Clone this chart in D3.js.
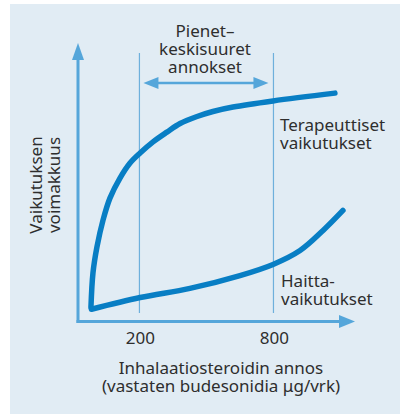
<!DOCTYPE html>
<html>
<head>
<meta charset="utf-8">
<script src="https://cdn.jsdelivr.net/npm/d3@7"></script>
<style>
  body { margin: 0; background: #fff; }
  svg text { font-family: "Noto Sans", "Open Sans", sans-serif; fill: #2e2e2e; }
</style>
</head>
<body>
<div class="graph"></div>
<script>
// schematic dose-response values
var doseTicks = [200, 800];
var therapeuticDose   = [-17, -8, 10, 37, 68, 113, 158, 203, 261, 323, 382, 458, 529, 619, 798, 1075];
var therapeuticEffect = [5.2, 17.4, 26.8, 36.4, 44.3, 51.5, 56.9, 60.5, 64.5, 68.0, 71.1, 73.6, 75.4, 77.0, 79.2, 82.0];
var adverseDose   = [-15, 203, 426, 650, 798, 919, 1022, 1111];
var adverseEffect = [4.4, 8.6, 11.9, 16.5, 20.5, 25.5, 32.7, 39.9];
var rangeLabel = ['Pienet–', 'keskisuuret', 'annokset'];
var therapeuticLabel = ['Terapeuttiset', 'vaikutukset'];
var adverseLabel = ['Haitta-', 'vaikutukset'];
var xTitle = ['Inhalaatiosteroidin annos', '(vastaten budesonidia μg/vrk)'];
var yTitle = ['Vaikutuksen', 'voimakkuus'];

var width = 400, height = 414;
var axisColor = '#55a6da', curveColor = '#087ec4';

var svg = d3.select('.graph').append('svg')
    .attr('width', width)
    .attr('height', height);

// panel background
svg.append('rect')
    .attr('x', 10).attr('y', 4)
    .attr('width', width - 10).attr('height', height - 4)
    .attr('fill', '#e1ecf4');

var x = d3.scaleLinear().domain([-75, 1165]).range([78, 355]);
var y = d3.scaleLinear().domain([0, 100]).range([321.5, 43]);

// axes with arrow heads
svg.append('path')
    .attr('d', 'M' + x(-75) + ',' + (y(0) + 1.5) + 'V' + (y(100) + 14))
    .attr('stroke', axisColor).attr('stroke-width', 3).attr('fill', 'none');
svg.append('path')
    .attr('d', 'M' + (x(-75) - 1.5) + ',' + y(0) + 'H' + (x(1165) - 14))
    .attr('stroke', axisColor).attr('stroke-width', 3).attr('fill', 'none');
svg.append('path')
    .attr('d', 'M' + x(-75) + ',' + y(100) + 'l-6,17h12z')
    .attr('fill', axisColor);
svg.append('path')
    .attr('d', 'M' + x(1165) + ',' + y(0) + 'l-16,-6.5v13z')
    .attr('fill', axisColor);

// guide lines at the dose ticks
svg.selectAll('.guide')
  .data(doseTicks)
  .enter().append('line')
    .attr('class', 'guide')
    .attr('x1', function (d) { return x(d); })
    .attr('x2', function (d) { return x(d); })
    .attr('y1', 53).attr('y2', 313)
    .attr('stroke', '#6eb0dc').attr('stroke-width', 1.2);

svg.selectAll('.tick')
  .data(doseTicks)
  .enter().append('text')
    .attr('class', 'tick')
    .attr('x', function (d) { return x(d) + 1; })
    .attr('y', 344)
    .attr('text-anchor', 'middle')
    .attr('font-size', 17)
    .text(function (d) { return d; });

// double arrow between the ticks
var ax0 = x(doseTicks[0]) + 4, ax1 = x(doseTicks[1]) - 5, ay = 83;
svg.append('line')
    .attr('x1', ax0 + 10).attr('x2', ax1 - 10)
    .attr('y1', ay).attr('y2', ay)
    .attr('stroke', axisColor).attr('stroke-width', 2.5);
svg.append('path')
    .attr('d', 'M' + ax0 + ',' + ay + 'l15,-6v12z')
    .attr('fill', axisColor);
svg.append('path')
    .attr('d', 'M' + ax1 + ',' + ay + 'l-15,-6v12z')
    .attr('fill', axisColor);

// curves
var line = d3.line()
    .x(function (d) { return x(d[0]); })
    .y(function (d) { return y(d[1]); })
    .curve(d3.curveCatmullRom.alpha(0.5));

svg.append('path')
    .attr('d', line(d3.zip(therapeuticDose, therapeuticEffect)))
    .attr('fill', 'none').attr('stroke', curveColor)
    .attr('stroke-width', 5.5).attr('stroke-linecap', 'round');
svg.append('path')
    .attr('d', line(d3.zip(adverseDose, adverseEffect)))
    .attr('fill', 'none').attr('stroke', curveColor)
    .attr('stroke-width', 5.5).attr('stroke-linecap', 'round');

// labels
function lines(lbl, cx, cy, anchor, step) {
  var t = svg.append('text')
      .attr('font-size', 17)
      .attr('text-anchor', anchor);
  t.selectAll('tspan')
    .data(lbl)
    .enter().append('tspan')
      .attr('x', cx)
      .attr('y', function (d, i) { return cy + i * step; })
      .text(function (d) { return d; });
  return t;
}

lines(rangeLabel, 205, 37, 'middle', 18);
lines(therapeuticLabel, 280, 131, 'start', 17.5);
lines(adverseLabel, 281, 287, 'start', 18);
lines(xTitle, 221, 374, 'middle', 17.5);

svg.append('g')
    .attr('transform', 'translate(0,185) rotate(-90)')
  .selectAll('text')
  .data(yTitle)
  .enter().append('text')
    .attr('x', 0)
    .attr('y', function (d, i) { return 42 + i * 18; })
    .attr('text-anchor', 'middle')
    .attr('font-size', 17)
    .text(function (d) { return d; });
</script>
</body>
</html>
